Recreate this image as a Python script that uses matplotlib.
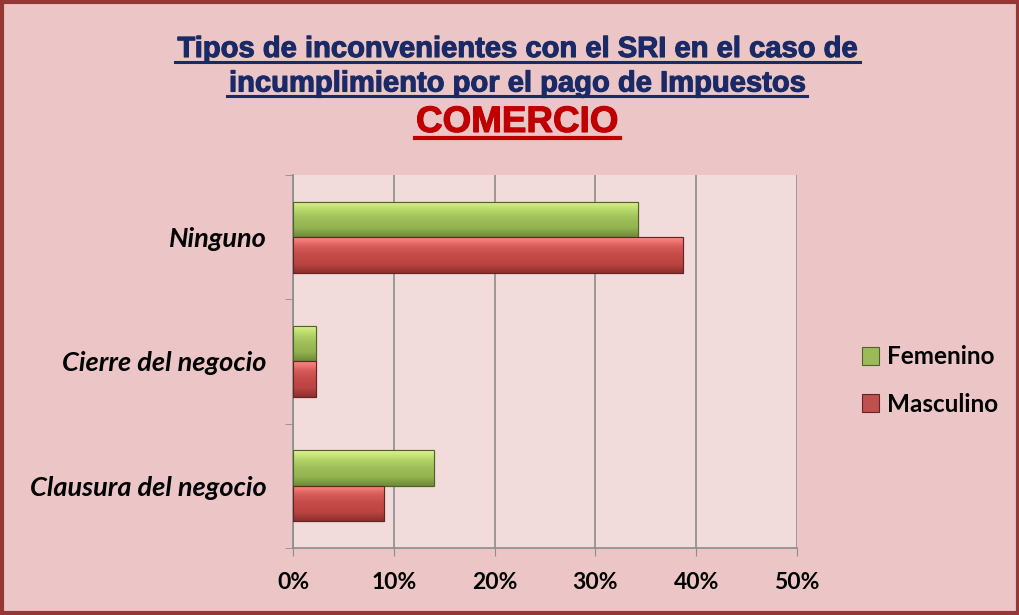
import numpy as np
import matplotlib
matplotlib.use("Agg")
import matplotlib.pyplot as plt
import matplotlib.patheffects as pe
from matplotlib.patches import Rectangle
from matplotlib.colors import LinearSegmentedColormap

categorias = ['Clausura del negocio', 'Cierre del negocio', 'Ninguno']
femenino = [14.0, 2.3, 34.2]
masculino = [9.0, 2.3, 38.7]
xticks = [0, 10, 20, 30, 40, 50]

fig = plt.figure(figsize=(10.2, 6.15), dpi=100)
fig.patch.set_facecolor('#ECC6C6')
fig.patches.append(Rectangle((0.002, 0.003), 0.996, 0.994, transform=fig.transFigure,
                             fill=False, edgecolor='#953735', linewidth=3))

ax = fig.add_axes([0.2873, 0.109, 0.4941, 0.6064])
ax.set_facecolor('#F2DCDB')

y = np.arange(len(categorias))
h = 0.285
b_fem = ax.barh(y + h / 2, femenino, h, color='#9BBB59', edgecolor='#4F6228', linewidth=0.8, zorder=3)
b_mas = ax.barh(y - h / 2, masculino, h, color='#C0504D', edgecolor='#632523', linewidth=0.8, zorder=3)

# bevel-like gradient on each bar
cm_g = LinearSegmentedColormap.from_list('g', ['#6E8A36', '#93B350', '#9DBE58', '#B5D66A', '#DDF58E'])
cm_r = LinearSegmentedColormap.from_list('r', ['#8E2F2D', '#BA4542', '#C44B48', '#D85C59', '#FF8A87'])
grad = np.linspace(0, 1, 64).reshape(-1, 1)
for bars, cmap in ((b_fem, cm_g), (b_mas, cm_r)):
    for p in bars:
        x0, y0 = p.get_x(), p.get_y()
        im = ax.imshow(grad, cmap=cmap, aspect='auto', origin='lower',
                       extent=(x0, x0 + p.get_width(), y0, y0 + p.get_height()), zorder=3.5)
        im.set_clip_path(p)
        ax.add_patch(Rectangle((x0, y0), p.get_width(), p.get_height(), fill=False,
                               edgecolor=p.get_edgecolor(), linewidth=0.8, zorder=4))

ax.set_xlim(0, 50)
ax.set_ylim(-0.5, 2.5)
ax.set_xticks(xticks)
ax.set_xticklabels([f'{t}%' for t in xticks], fontsize=16.5, fontweight='bold', family='Lato')
ax.set_yticks(y)
ax.set_yticklabels(categorias, fontsize=19.5, fontstyle='italic', fontweight='bold', family='Lato')
ax.set_yticks(np.arange(-0.5, 3, 1), minor=True)
ax.tick_params(axis='y', which='major', length=0, pad=19)
ax.tick_params(axis='y', which='minor', length=6, color='#8C8C8C')
ax.tick_params(axis='x', length=6, color='#8C8C8C', pad=11)
ax.grid(axis='x', color='#8C8C8C', linewidth=1.2, zorder=1)
ax.set_axisbelow(True)
for s in ('top', 'right'):
    ax.spines[s].set_visible(False)
ax.spines['left'].set_color('#8C8C8C')
ax.spines['bottom'].set_color('#8C8C8C')
ax.spines['left'].set_linewidth(1.2)
ax.spines['bottom'].set_linewidth(1.2)

leg = fig.legend([b_fem, b_mas], ['Femenino', 'Masculino'], loc='center left',
                 bbox_to_anchor=(862 / 1020, 0.3813), frameon=False, borderpad=0, borderaxespad=0,
                 handlelength=0.72, handleheight=0.72, handletextpad=0.3, labelspacing=1.0,
                 prop={'family': 'Lato', 'weight': 'bold', 'size': 17.5})

navy = '#1A2A66'
heavy_n = [pe.withStroke(linewidth=0.8, foreground=navy)]
heavy_r = [pe.withStroke(linewidth=0.8, foreground='#C00000')]
xc = 517 / 1020
fig.text(xc, 0.9073, 'Tipos de inconvenientes con el SRI en el caso de', ha='center', va='baseline',
         fontsize=21, fontweight='bold', color=navy, family='Liberation Sans', path_effects=heavy_n)
fig.text(xc, 0.8512, 'incumplimiento por el pago de Impuestos', ha='center', va='baseline',
         fontsize=21, fontweight='bold', color=navy, family='Liberation Sans', path_effects=heavy_n)
fig.text(xc, 0.7854, 'COMERCIO', ha='center', va='baseline',
         fontsize=26.5, fontweight='bold', color='#C00000', family='Liberation Sans', path_effects=heavy_r)
# underlines
for yy, x0, x1, c, lw in ((0.8992, 0.1716, 0.843, navy, 2.2), (0.8431, 0.2225, 0.791, navy, 2.2),
                          (0.7756, 0.4069, 0.6078, '#C00000', 3)):
    fig.add_artist(plt.Line2D([x0, x1], [yy, yy], transform=fig.transFigure, color=c, linewidth=lw))

fig.savefig('out.png', dpi=100, facecolor=fig.get_facecolor())
